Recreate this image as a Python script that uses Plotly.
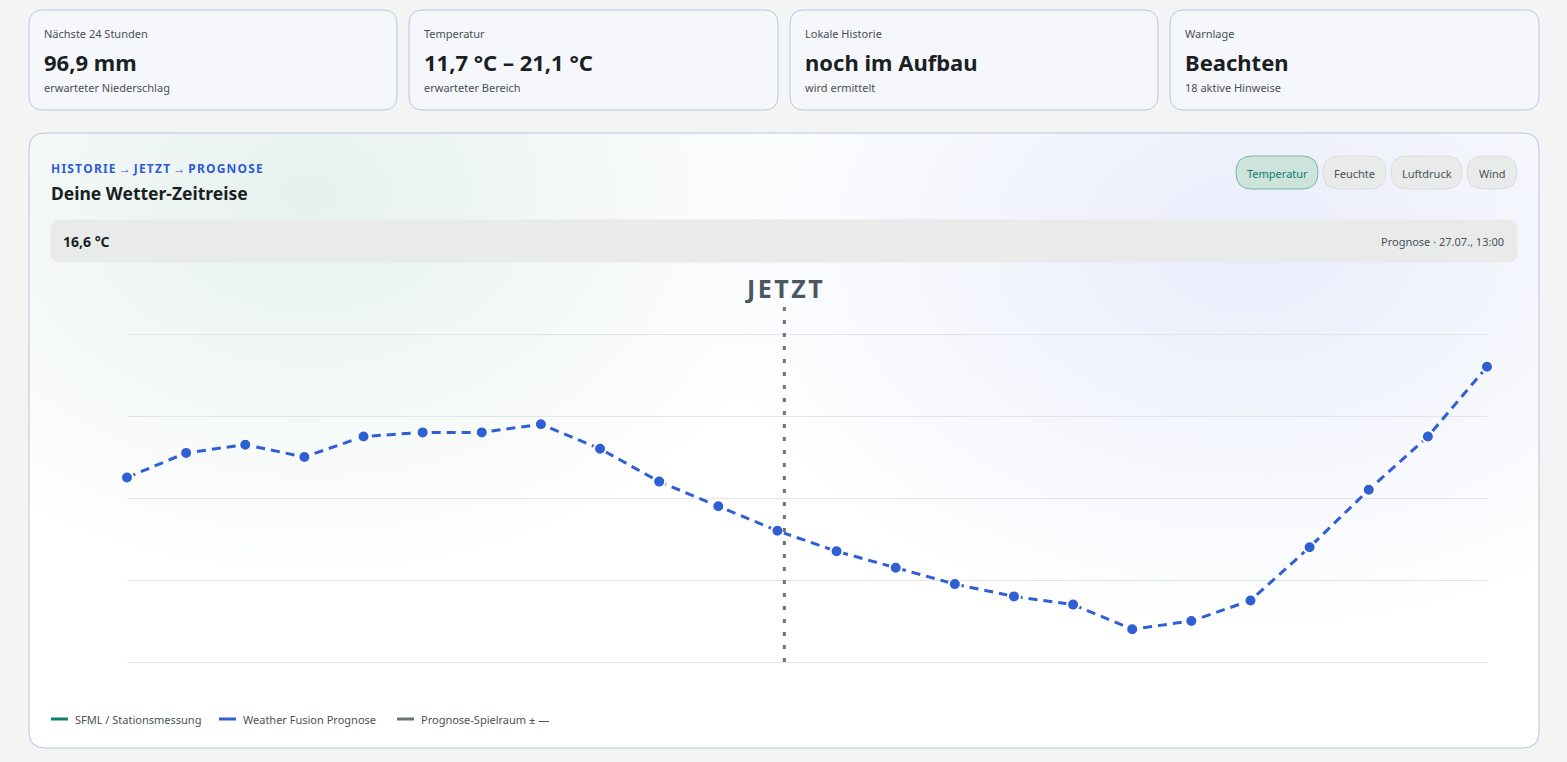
import base64
import plotly.graph_objects as go

W, H = 1567, 762

# forecast timeline, 27.07. 01:00 .. 28.07. 00:00
hours = ["%02d:00" % h for h in range(1, 24)] + ["00:00"]
temps = [16.5, 17.1, 17.3, 17.0, 17.5, 17.6, 17.6, 17.8, 17.2, 16.4, 15.8, 15.2,
         14.7, 14.3, 13.9, 13.6, 13.4, 12.8, 13.0, 13.5, 14.8, 16.2, 17.5, 19.2]
now_pos = 11 + 7 / 60  # 12:07

cards = [
    ("Nächste 24 Stunden", "96,9 mm", "erwarteter Niederschlag"),
    ("Temperatur", "11,7 °C – 21,1 °C", "erwarteter Bereich"),
    ("Lokale Historie", "noch im Aufbau", "wird ermittelt"),
    ("Warnlage", "Beachten", "18 aktive Hinweise"),
]
buttons = ["Temperatur", "Feuchte", "Luftdruck", "Wind"]
legend_items = [("SFML / Stationsmessung", "#0f7f6b"),
                ("Weather Fusion Prognose", "#2f5fd4"),
                ("Prognose-Spielraum ± —", "#6b7377")]

FONT = "Noto Sans"
BLUE = "#2f5fd4"
HAIR = "\u200a"


def fx(x):
    return x / W


def fy(y):
    return 1 - y / H


def spaced(s):
    # letter spacing inside words only
    return " ".join(HAIR.join(w) for w in s.split(" "))


def rounded(x0, y0, x1, y1, r):
    pts = [("M", x0 + r, y0), ("L", x1 - r, y0), ("Q", x1, y0, x1, y0 + r),
           ("L", x1, y1 - r), ("Q", x1, y1, x1 - r, y1), ("L", x0 + r, y1),
           ("Q", x0, y1, x0, y1 - r), ("L", x0, y0 + r), ("Q", x0, y0, x0 + r, y0)]
    out = ""
    for p in pts:
        nums = p[1:]
        s = []
        for i in range(0, len(nums), 2):
            s.append("%.5f,%.5f" % (fx(nums[i]), fy(nums[i + 1])))
        out += p[0] + " ".join(s) + " "
    return out + "Z"


shapes = []
annotations = []


def box(x0, y0, x1, y1, r, fill, line, width=1):
    shapes.append(dict(type="path", xref="paper", yref="paper", layer="below",
                       path=rounded(x0, y0, x1, y1, r), fillcolor=fill,
                       line=dict(color=line, width=width)))


def text(x, y, s, size, color, bold=False, anchor="left"):
    if bold:
        s = "<b>" + s + "</b>"
    if anchor == "left":
        x -= 2
    elif anchor == "right":
        x += 2
    annotations.append(dict(xref="paper", yref="paper", x=fx(x), y=fy(y), text=s,
                            showarrow=False, xanchor=anchor, yanchor="middle",
                            font=dict(family=FONT, size=size, color=color)))


# summary cards
card_x = [(29, 397), (409, 778), (790, 1158), (1170, 1539)]
for (x0, x1), (lab, val, sub) in zip(card_x, cards):
    box(x0, 10, x1, 110, 14, "#f5f7fb", "#b9c7e3")
    text(x0 + 15, 34, lab, 11, "#4a4f55")
    text(x0 + 15, 62, val, 22, "#1b1f24", bold=True)
    text(x0 + 15, 88, sub, 11, "#4a4f55")

# panel background with soft tints (svg gradient)
svg = """<svg xmlns='http://www.w3.org/2000/svg' width='1510' height='615'>
<defs>
<radialGradient id='g1' cx='280' cy='60' r='520' gradientUnits='userSpaceOnUse'
 gradientTransform='translate(280 60) scale(1 0.75) translate(-280 -60)'>
<stop offset='0' stop-color='#e6f1ed'/><stop offset='1' stop-color='#e6f1ed' stop-opacity='0'/></radialGradient>
<radialGradient id='g2' cx='1220' cy='110' r='560' gradientUnits='userSpaceOnUse'
 gradientTransform='translate(1220 110) scale(1 0.7) translate(-1220 -110)'>
<stop offset='0' stop-color='#e9edfb'/><stop offset='1' stop-color='#e9edfb' stop-opacity='0'/></radialGradient>
</defs>
<rect x='0' y='0' width='1510' height='615' rx='16' fill='#ffffff'/>
<rect x='0' y='0' width='1510' height='615' rx='16' fill='url(#g1)'/>
<rect x='0' y='0' width='1510' height='615' rx='16' fill='url(#g2)'/>
</svg>"""
src = "data:image/svg+xml;base64," + base64.b64encode(svg.encode()).decode()
images = [dict(source=src, xref="paper", yref="paper", x=fx(29), y=fy(133),
               sizex=1510 / W, sizey=615 / H, sizing="stretch", layer="below",
               xanchor="left", yanchor="top")]
shapes.append(dict(type="path", xref="paper", yref="paper", layer="below",
                   path=rounded(29, 133, 1539, 748, 16), fillcolor="rgba(0,0,0,0)",
                   line=dict(color="#b7c5e2", width=1)))

text(51, 168, spaced("HISTORIE → JETZT → PROGNOSE"), 12, "#2e5bd6", bold=True)
text(51, 193, "Deine Wetter-Zeitreise", 17.5, "#1b1f24", bold=True)

# metric buttons
btn_x = [(1236, 1318), (1323, 1386), (1391, 1462), (1467, 1517)]
for i, ((x0, x1), b) in enumerate(zip(btn_x, buttons)):
    if i == 0:
        box(x0, 156, x1, 189, 16, "#cde3dc", "#78b6a7")
        col = "#127d69"
    else:
        box(x0, 156, x1, 189, 16, "#e8ebe9", "#dadfdc")
        col = "#4b5157"
    annotations.append(dict(xref="paper", yref="paper", x=fx((x0 + x1) / 2), y=fy(173),
                            text=b, showarrow=False, xanchor="center", yanchor="middle",
                            font=dict(family=FONT, size=11, color=col)))

# readout bar
box(51, 220, 1517, 262, 9, "#e8ebea", "#e8ebea")
text(63, 241, "16,6 °C", 14, "#1b1f24", bold=True)
text(1504, 241, "Prognose · 27.07., 13:00", 11, "#4b5157", anchor="right")

# now marker
shapes.append(dict(type="line", xref="x", yref="paper", x0=now_pos, x1=now_pos,
                   y0=fy(662), y1=fy(305), layer="above",
                   line=dict(color="#6b7377", width=3, dash="4px,9px")))
annotations.append(dict(xref="x", yref="paper", x=now_pos, y=fy(288),
                        text="<b>" + spaced("JETZT") + "</b>", showarrow=False,
                        xanchor="center", yanchor="middle",
                        font=dict(family=FONT, size=25, color="#4a585e")))

# legend
lx = [51, 219, 397]
for x0, (lab, col) in zip(lx, legend_items):
    shapes.append(dict(type="line", xref="paper", yref="paper", x0=fx(x0), x1=fx(x0 + 17),
                       y0=fy(719), y1=fy(719), line=dict(color=col, width=3)))
    text(x0 + 24, 719, lab, 11, "#4b5157")

fig = go.Figure()
fig.add_trace(go.Scatter(
    x=list(range(len(hours))), y=temps, mode="lines+markers",
    name="Weather Fusion Prognose", cliponaxis=False,
    line=dict(color=BLUE, width=3, dash="9px,6px"),
    marker=dict(size=12, color=BLUE, line=dict(color="#ffffff", width=2)),
    customdata=hours,
    hovertemplate="%{customdata}: %{y:.1f} °C<extra></extra>",
))

# y range padded a little so the outer gridlines are drawn
pad = 0.03
pad_px = pad * 82 / 2
fig.update_layout(
    width=W, height=H, margin=dict(l=0, r=0, t=0, b=0),
    paper_bgcolor="#f3f4f3", plot_bgcolor="rgba(0,0,0,0)",
    showlegend=False, shapes=shapes, annotations=annotations, images=images,
    font=dict(family=FONT),
    xaxis=dict(domain=[fx(127), fx(1487)], range=[0, len(hours) - 1],
               showgrid=False, zeroline=False, showticklabels=False, showline=False),
    yaxis=dict(domain=[fy(662 + pad_px), fy(334 - pad_px)], range=[12 - pad, 20 + pad],
               dtick=2, tick0=12, showgrid=True, gridcolor="#e2e5e7", gridwidth=1,
               zeroline=False, showticklabels=False, showline=False),
)

fig.write_html("out.html", config={"displayModeBar": False},
               post_script="document.body.style.margin='0';")
